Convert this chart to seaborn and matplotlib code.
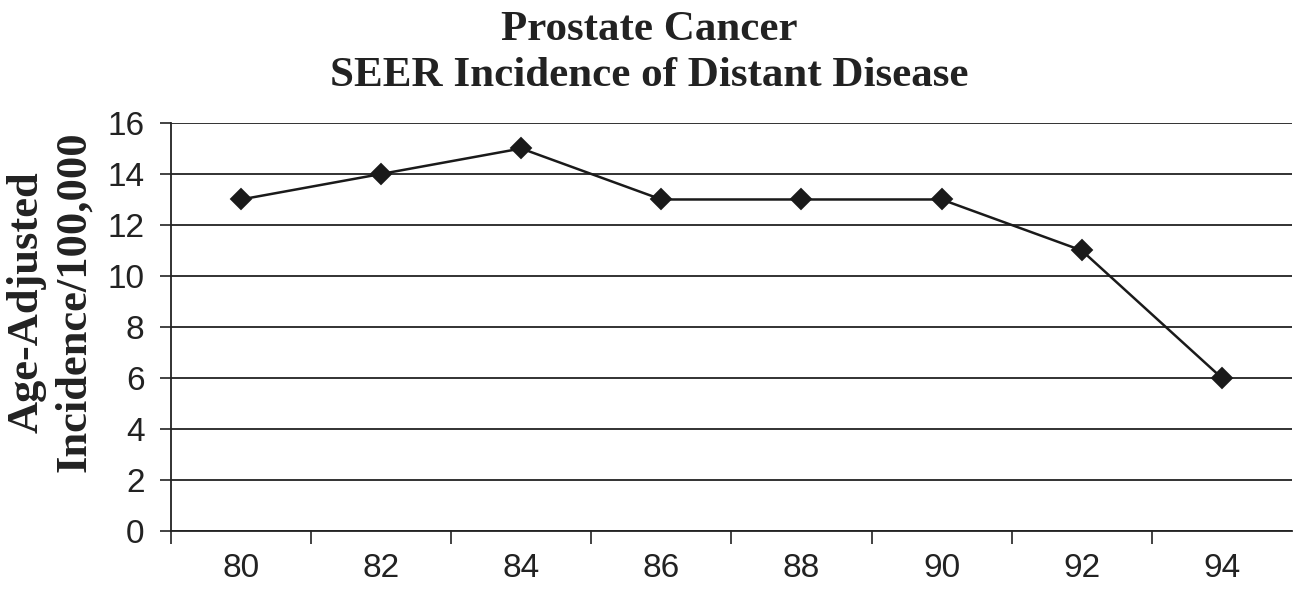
import numpy as np
import matplotlib
matplotlib.use("Agg")
import matplotlib.pyplot as plt
import seaborn as sns

years = ["80", "82", "84", "86", "88", "90", "92", "94"]
incidence = [13, 14, 15, 13, 13, 13, 11, 6]
yticks = [0, 2, 4, 6, 8, 10, 12, 14, 16]

sns.set_style("white")
plt.rcParams["font.family"] = ["Liberation Sans", "DejaVu Sans"]
serif = ["Liberation Serif", "DejaVu Serif"]

fig = plt.figure(figsize=(12.98, 5.97), dpi=100)
ax = fig.add_axes([0.1317, 0.1106, 0.8636, 0.6834])

sns.pointplot(x=years, y=incidence, color="#1a1a1a", markers="D",
              markersize=10, linewidth=1.8, ax=ax)

ax.set_ylim(0, 16)
ax.set_xlim(-0.5, len(years) - 0.5)
ax.set_yticks(yticks)
ax.set_yticklabels([str(v) for v in yticks])
ax.yaxis.grid(True, color="#222222", linewidth=1.3)
ax.set_axisbelow(True)

# labels centred on the categories, tick marks between them
ax.set_xticks(np.arange(len(years)))
ax.set_xticklabels(years)
ax.set_xticks(np.arange(len(years)) - 0.5, minor=True)
ax.tick_params(axis="x", which="major", bottom=True, length=0, pad=16,
               labelsize=24, colors="#222222")
ax.tick_params(axis="x", which="minor", bottom=True, length=9, width=1.2,
               direction="out", colors="#222222")
ax.tick_params(axis="y", left=True, length=8, width=1.2, direction="out",
               labelsize=24, colors="#222222", pad=11)

for s in ["top", "right"]:
    ax.spines[s].set_visible(False)
for s in ["left", "bottom"]:
    ax.spines[s].set_color("#222222")
    ax.spines[s].set_linewidth(1.3)

ax.set_xlabel("")
ax.set_ylabel("")
fig.text(0.039, 1 - 302 / 597, "Age-Adjusted\nIncidence/100,000", rotation=90,
         ha="center", va="center", family=serif, fontweight="bold",
         fontsize=32, color="#222222", linespacing=1.25)
fig.text(0.5, 1 - 53 / 597, "Prostate Cancer\nSEER Incidence of Distant Disease",
         ha="center", va="center", family=serif, fontweight="bold",
         fontsize=31, color="#222222", linespacing=1.3)

fig.savefig("out.png", dpi=100)
